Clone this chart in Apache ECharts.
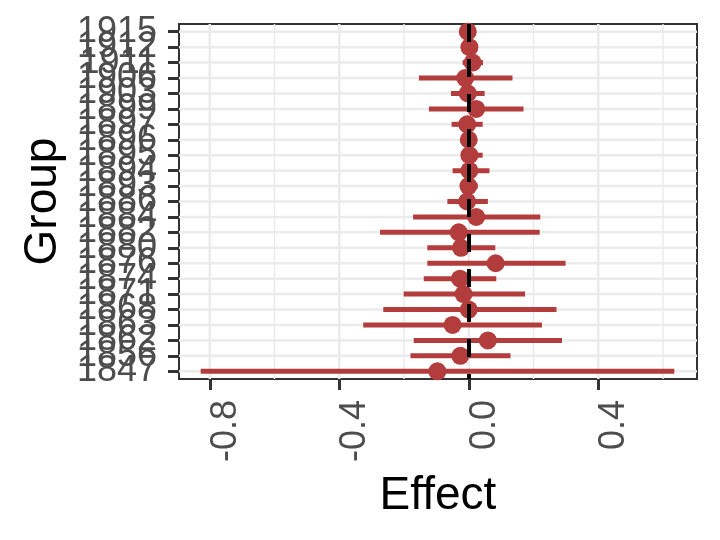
<!DOCTYPE html>
<html>
<head>
<meta charset="utf-8">
<script src="https://cdn.jsdelivr.net/npm/echarts@6/dist/echarts.min.js"></script>
<style>
  html, body { margin: 0; padding: 0; background: #fff; }
  #chart { width: 720px; height: 540px; }
</style>
</head>
<body>
<div id="chart"></div>
<script>
// groups, top row first
var groups = ['1915', '1912', '1911', '1906', '1903', '1899', '1897', '1896', '1895', '1894', '1893', '1886',
    '1884', '1882', '1880', '1876', '1874', '1871', '1868', '1863', '1862', '1856', '1847'];
var effect = [-0.003, 0.002, 0.012, -0.011, -0.003, 0.023, -0.005, 0.000, 0.002, 0.002, -0.001, -0.005,
    0.023, -0.031, -0.024, 0.083, -0.027, -0.016, 0.000, -0.050, 0.059, -0.026, -0.097];
var lower = [-0.015, -0.012, -0.019, -0.154, -0.055, -0.123, -0.053, -0.018, -0.024, -0.050, -0.027, -0.066,
    -0.172, -0.274, -0.128, -0.128, -0.139, -0.201, -0.264, -0.326, -0.170, -0.180, -0.828];
var upper = [0.010, 0.015, 0.044, 0.135, 0.049, 0.169, 0.043, 0.018, 0.043, 0.064, 0.028, 0.059,
    0.221, 0.219, 0.082, 0.299, 0.085, 0.174, 0.271, 0.226, 0.288, 0.129, 0.635];
var xMajor = [-0.8, -0.4, 0.0, 0.4];
var xMinor = [-0.6, -0.2, 0.2, 0.6];

var RED = '#B33C3C';
var GRID = '#EBEBEB';
var FONT = '"Liberation Sans", Arial, sans-serif';

var points = effect.map(function (v, i) { return [v, i]; });
var ranges = lower.map(function (v, i) { return [v, upper[i], i]; });

// full-height vertical line through an x value
function vLine(width) {
    return function (params, api) {
        var x = api.coord([api.value(0), 0])[0];
        var cs = params.coordSys;
        return {
            type: 'line',
            shape: { x1: x, y1: cs.y, x2: x, y2: cs.y + cs.height },
            style: { stroke: GRID, lineWidth: width }
        };
    };
}

var chart = echarts.init(document.getElementById('chart'));
chart.setOption({
    animation: false,
    textStyle: { fontFamily: FONT },
    grid: {
        left: 179, right: 23, top: 24, bottom: 161,
        show: true, borderColor: '#333', borderWidth: 2, backgroundColor: 'transparent'
    },
    xAxis: {
        type: 'value',
        min: -0.895, max: 0.705,
        name: 'Effect',
        nameLocation: 'middle',
        nameGap: 94,
        nameTextStyle: { fontSize: 46, color: '#000', fontFamily: FONT },
        axisLine: { show: true, onZero: false, lineStyle: { color: '#333', width: 2 } },
        splitLine: { show: false },
        axisTick: { show: true, customValues: xMajor, length: 11, lineStyle: { color: '#333', width: 3 } },
        axisLabel: {
            customValues: xMajor, rotate: 90, margin: 21, fontSize: 36, color: '#4D4D4D',
            verticalAlign: 'top', lineHeight: 32, fontFamily: FONT,
            formatter: function (v) { return v.toFixed(1); }
        }
    },
    yAxis: {
        type: 'category',
        inverse: true,
        data: groups,
        boundaryGap: true,
        name: 'Group',
        nameLocation: 'middle',
        nameRotate: 90,
        nameGap: 112,
        nameTextStyle: { fontSize: 46, color: '#000', fontFamily: FONT },
        axisLine: { show: true, onZero: false, lineStyle: { color: '#333', width: 2 } },
        splitLine: { show: false },
        axisTick: { show: true, alignWithLabel: true, interval: 0, length: 11, lineStyle: { color: '#333', width: 3 } },
        axisLabel: { interval: 0, margin: 22, fontSize: 36, color: '#4D4D4D', fontFamily: FONT }
    },
    series: [
        {
            // horizontal gridlines, one per group
            type: 'custom',
            z: 1,
            silent: true,
            data: groups.map(function (g, i) { return [0, i]; }),
            renderItem: function (params, api) {
                var y = api.coord([0, api.value(1)])[1];
                var cs = params.coordSys;
                return {
                    type: 'line',
                    shape: { x1: cs.x, y1: y, x2: cs.x + cs.width, y2: y },
                    style: { stroke: GRID, lineWidth: 2.5 }
                };
            }
        },
        {
            type: 'custom',
            z: 1,
            silent: true,
            data: xMinor.map(function (v) { return [v, 0]; }),
            renderItem: vLine(1.5)
        },
        {
            type: 'custom',
            z: 1,
            silent: true,
            data: xMajor.map(function (v) { return [v, 0]; }),
            renderItem: vLine(2.5)
        },
        {
            // intervals
            type: 'custom',
            z: 2,
            silent: true,
            data: ranges,
            renderItem: function (params, api) {
                var a = api.coord([api.value(0), api.value(2)]);
                var b = api.coord([api.value(1), api.value(2)]);
                return {
                    type: 'line',
                    shape: { x1: a[0], y1: a[1], x2: b[0], y2: b[1] },
                    style: { stroke: RED, lineWidth: 5 }
                };
            }
        },
        {
            type: 'scatter',
            z: 3,
            silent: true,
            symbolSize: 18,
            itemStyle: { color: RED, opacity: 1 },
            data: points
        },
        {
            // zero line
            type: 'scatter',
            z: 10,
            data: [],
            markLine: {
                silent: true,
                symbol: 'none',
                label: { show: false },
                lineStyle: { color: '#000', width: 4, type: [18, 17] },
                data: [{ xAxis: 0 }]
            }
        }
    ]
});
</script>
</body>
</html>
